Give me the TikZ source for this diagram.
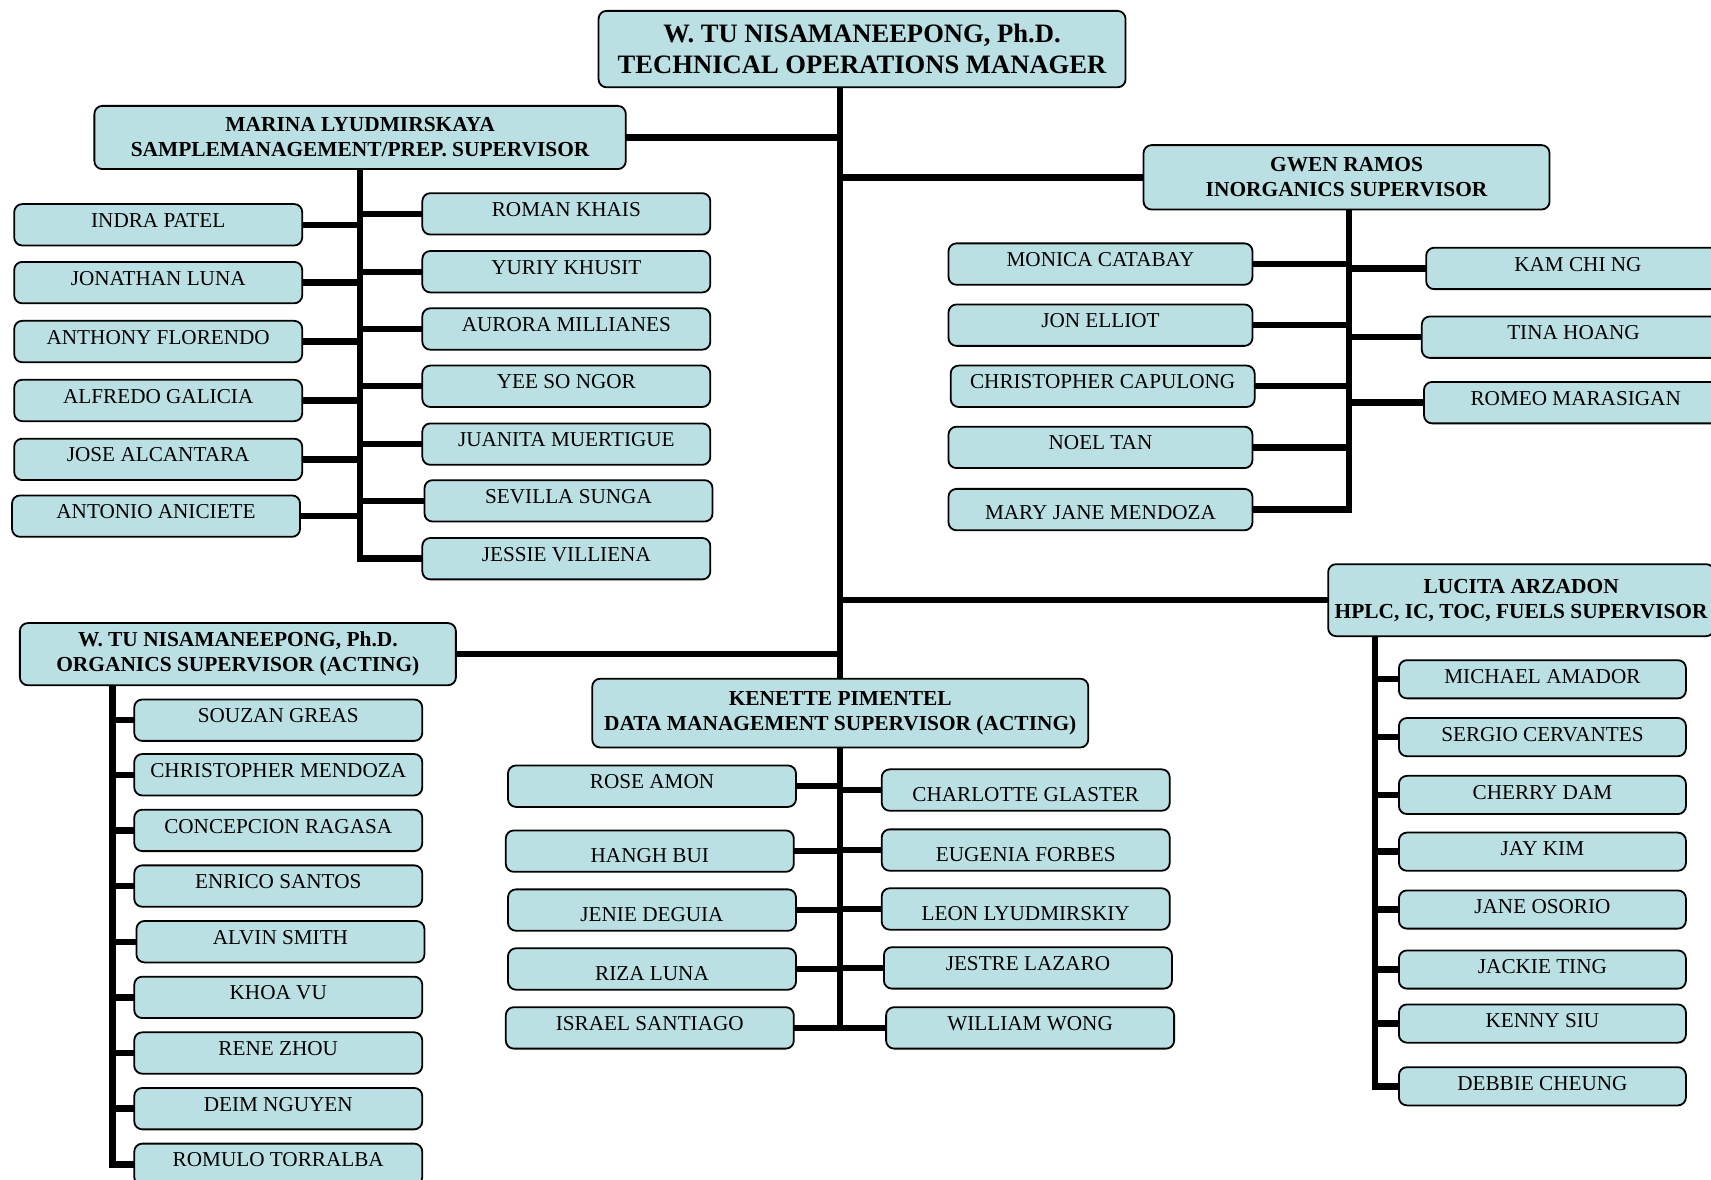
\documentclass[tikz,border=0pt]{standalone}
\usepackage{fontspec}
\setmainfont{Liberation Serif}
\usetikzlibrary{backgrounds}
\definecolor{orgfill}{HTML}{BBE0E3}

\begin{document}
\begin{tikzpicture}[x=0.5456pt,y=-0.5456pt]
  \tikzset{
    box/.style={draw,line width=0.9pt,rounded corners=4pt,fill=orgfill,inner sep=0pt,align=center},
    chief/.style={box,minimum width=263.5pt,minimum height=38.2pt,font=\fontsize{13.3}{15.3}\selectfont\bfseries},
    lead/.style={box,minimum height=31.6pt,font=\fontsize{10.7}{12.5}\selectfont\bfseries},
    staff/.style={box,minimum width=144pt,minimum height=20.7pt,text height=2.6pt,text depth=0pt,font=\fontsize{10.6}{12}\selectfont},
    lowtext/.style={text height=11.4pt},
    link/.style={line width=3.2pt,line cap=rect}
  }
  \useasboundingbox (0,0) rectangle (1568,1081);

  % manager and supervisors
  \node[chief] (manager) at (790,45) {W. TU NISAMANEEPONG, Ph.D.\\TECHNICAL OPERATIONS MANAGER};
  \node[lead,minimum width=265.7pt] (samples) at (330,126) {MARINA LYUDMIRSKAYA\\SAMPLEMANAGEMENT/PREP. SUPERVISOR};
  \node[lead,minimum width=203pt,minimum height=32.2pt] (inorganics) at (1234,162.5) {GWEN RAMOS\\INORGANICS SUPERVISOR};
  \node[lead,minimum width=193pt,minimum height=36pt] (hplc) at (1394,550) {LUCITA ARZADON\\HPLC, IC, TOC, FUELS SUPERVISOR};
  \node[lead,minimum width=218pt,minimum height=31.1pt] (organics) at (218,599.5) {W. TU NISAMANEEPONG, Ph.D.\\ORGANICS SUPERVISOR (ACTING)};
  \node[lead,minimum width=248pt,minimum height=34.4pt] (datamgmt) at (770,653.5) {KENETTE PIMENTEL\\DATA MANAGEMENT SUPERVISOR (ACTING)};

  % sample management / prep.
  \foreach \who/\x/\y [count=\k] in {INDRA PATEL/145/206, JONATHAN LUNA/145/259, ANTHONY FLORENDO/145/313,
      ALFREDO GALICIA/145/367, JOSE ALCANTARA/145/421, ANTONIO ANICIETE/143/473}
    \node[staff] (samp-l\k) at (\x,\y) {\who};
  \foreach \who/\x/\y [count=\k] in {ROMAN KHAIS/519/196, YURIY KHUSIT/519/249, AURORA MILLIANES/519/301.5,
      YEE SO NGOR/519/354, JUANITA MUERTIGUE/519/407, SEVILLA SUNGA/521/459, JESSIE VILLIENA/519/512}
    \node[staff] (samp-r\k) at (\x,\y) {\who};

  % inorganics
  \foreach \who/\x/\y/\th [count=\k] in {MONICA CATABAY/1008.5/242/2.6pt, JON ELLIOT/1008.5/298/2.6pt,
      CHRISTOPHER CAPULONG/1010.5/354/2.6pt, NOEL TAN/1008.5/410/2.6pt, MARY JANE MENDOZA/1008.5/467/9.6pt}
    \node[staff,minimum width=152pt,text height=\th] (inorg-l\k) at (\x,\y) {\who};
  \foreach \who/\x/\y [count=\k] in {KAM CHI NG/1446/246, TINA HOANG/1442/309, ROMEO MARASIGAN/1444/369}
    \node[staff,minimum width=151.7pt] (inorg-r\k) at (\x,\y) {\who};

  % hplc, ic, toc, fuels
  \foreach \who/\y [count=\k] in {MICHAEL AMADOR/622.5, SERGIO CERVANTES/675.5, CHERRY DAM/728.5, JAY KIM/780.5,
      JANE OSORIO/833.5, JACKIE TING/888.5, KENNY SIU/938, DEBBIE CHEUNG/995.5}
    \node[staff,minimum width=143.5pt,minimum height=19.1pt,text height=4.2pt] (hplc-s\k) at (1413.5,\y) {\who};

  % organics
  \foreach \who/\x/\y [count=\k] in {SOUZAN GREAS/255/660, CHRISTOPHER MENDOZA/255/710, CONCEPCION RAGASA/255/761,
      ENRICO SANTOS/255/812, ALVIN SMITH/257/863, KHOA VU/255/914, RENE ZHOU/255/965, DEIM NGUYEN/255/1016,
      ROMULO TORRALBA/255/1067}
    \node[staff] (org-s\k) at (\x,\y) {\who};

  % data management
  \foreach \who/\x/\y/\th [count=\k] in {ROSE AMON/597.5/720.5/2.6pt, HANGH BUI/595.5/780/11.4pt,
      JENIE DEGUIA/597.5/834/11.4pt, RIZA LUNA/597.5/888/11.4pt, ISRAEL SANTIAGO/595.5/942/2.6pt}
    \node[staff,text height=\th] (data-l\k) at (\x,\y) {\who};
  \foreach \who/\x/\y/\th [count=\k] in {CHARLOTTE GLASTER/940/724/11.4pt, EUGENIA FORBES/940/779/11.4pt,
      LEON LYUDMIRSKIY/940/833/11.4pt, JESTRE LAZARO/942/887/2.6pt, WILLIAM WONG/944/942/2.6pt}
    \node[staff,text height=\th] (data-r\k) at (\x,\y) {\who};

  % bus lines
  \coordinate (spine) at (770,80);
  \coordinate (samp-bus) at (330,512);
  \coordinate (inorg-bus) at (1236,467);
  \coordinate (hplc-bus) at (1260,995.5);
  \coordinate (org-bus) at (103,1067);
  \coordinate (data-bus) at (770,942);

  \begin{scope}[on background layer]
    \draw[link] (spine) -- (spine |- datamgmt.north);
    \draw[link] (samples.east) -- (samples.east -| spine);
    \draw[link] (inorganics.west) -- (inorganics.west -| spine);
    \draw[link] (hplc.west) -- (hplc.west -| spine);
    \draw[link] (organics.east) -- (organics.east -| spine);

    \draw[link] (samples.south) -- (samp-bus);
    \foreach \k in {1,...,6} \draw[link] (samp-l\k.east) -- (samp-l\k.east -| samp-bus);
    \foreach \k in {1,...,7} \draw[link] (samp-r\k.west) -- (samp-r\k.west -| samp-bus);

    \draw[link] (inorg-bus |- inorganics.south) -- (inorg-bus);
    \foreach \k in {1,...,5} \draw[link] (inorg-l\k.east) -- (inorg-l\k.east -| inorg-bus);
    \foreach \k in {1,...,3} \draw[link] (inorg-r\k.west) -- (inorg-r\k.west -| inorg-bus);

    \draw[link] (hplc-bus |- hplc.south) -- (hplc-bus);
    \foreach \k in {1,...,8} \draw[link] (hplc-s\k.west) -- (hplc-s\k.west -| hplc-bus);

    \draw[link] (org-bus |- organics.south) -- (org-bus);
    \foreach \k in {1,...,9} \draw[link] (org-s\k.west) -- (org-s\k.west -| org-bus);

    \draw[link] (datamgmt.south) -- (data-bus);
    \foreach \k in {1,...,5} \draw[link] (data-l\k.east) -- (data-l\k.east -| data-bus);
    \foreach \k in {1,...,5} \draw[link] (data-r\k.west) -- (data-r\k.west -| data-bus);
  \end{scope}
\end{tikzpicture}
\end{document}
